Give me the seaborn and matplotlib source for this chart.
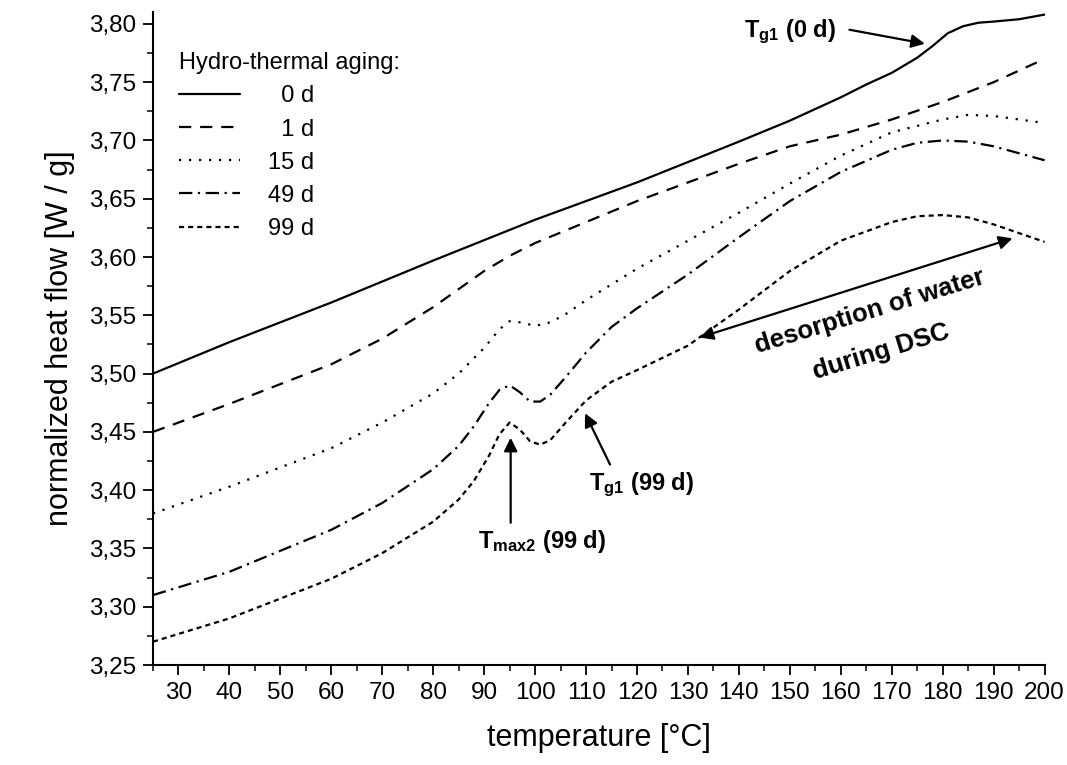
"""
DSC curves of hydro-thermally aged samples (normalized heat flow vs temperature).
"""
import matplotlib

matplotlib.use("Agg")
import matplotlib.pyplot as plt
import pandas as pd
import seaborn as sns
from matplotlib.ticker import FuncFormatter, MultipleLocator

# --- data ------------------------------------------------------------------
aging_labels = ["0 d", "1 d", "15 d", "49 d", "99 d"]

temp_0d = [25, 40, 60, 80, 100, 120, 140, 150, 160, 165, 170, 175, 178, 181, 184, 187, 190, 195, 200]
flow_0d = [3.500, 3.527, 3.561, 3.597, 3.632, 3.664, 3.699, 3.717, 3.737, 3.748, 3.758, 3.771,
           3.781, 3.792, 3.798, 3.801, 3.802, 3.804, 3.808]

temp_1d = [25, 40, 60, 70, 80, 90, 95, 100, 110, 120, 130, 140, 150, 155, 160, 170, 180, 190, 200]
flow_1d = [3.450, 3.474, 3.508, 3.530, 3.557, 3.588, 3.601, 3.612, 3.630, 3.648, 3.664, 3.680,
           3.695, 3.700, 3.705, 3.718, 3.733, 3.750, 3.770]

temp_15d = [25, 40, 60, 70, 80, 85, 90, 93, 95, 97, 100, 103, 106, 110, 120, 130, 140, 150, 160,
            170, 180, 185, 190, 200]
flow_15d = [3.380, 3.403, 3.436, 3.458, 3.483, 3.500, 3.522, 3.538, 3.545, 3.544, 3.541, 3.544,
            3.551, 3.563, 3.590, 3.614, 3.638, 3.663, 3.687, 3.707, 3.718, 3.722, 3.721, 3.715]

temp_49d = [25, 40, 60, 70, 80, 85, 88, 91, 93, 95, 97, 99, 101, 103, 106, 110, 115, 120, 130,
            140, 150, 160, 170, 175, 180, 185, 190, 200]
flow_49d = [3.310, 3.330, 3.366, 3.389, 3.418, 3.438, 3.455, 3.475, 3.486, 3.490, 3.484, 3.476,
            3.476, 3.482, 3.497, 3.518, 3.540, 3.556, 3.585, 3.617, 3.648, 3.673, 3.692, 3.698,
            3.700, 3.699, 3.695, 3.683]

temp_99d = [25, 40, 60, 70, 80, 85, 88, 91, 93, 95, 97, 99, 101, 103, 106, 110, 115, 120, 130,
            140, 150, 160, 170, 175, 180, 185, 190, 200]
flow_99d = [3.270, 3.290, 3.324, 3.346, 3.373, 3.392, 3.408, 3.430, 3.448, 3.458, 3.452, 3.442,
            3.439, 3.443, 3.458, 3.477, 3.493, 3.503, 3.524, 3.555, 3.588, 3.614, 3.630, 3.635,
            3.636, 3.634, 3.628, 3.613]

series = {
    "0 d": (temp_0d, flow_0d),
    "1 d": (temp_1d, flow_1d),
    "15 d": (temp_15d, flow_15d),
    "49 d": (temp_49d, flow_49d),
    "99 d": (temp_99d, flow_99d),
}

dash_styles = {
    "0 d": "",
    "1 d": (5.5, 4),
    "15 d": (1, 3.5),
    "49 d": (6, 2.5, 1, 2.5),
    "99 d": (2.3, 1.8),
}

# legend labels padded so the numbers line up on the right
legend_labels = ["  0 d", "  1 d", "15 d", "49 d", "99 d"]

# --- plot ---------------------------------------------------------------------
sns.set_theme(style="ticks")
plt.rcParams["font.family"] = ["Liberation Sans", "DejaVu Sans"]
plt.rcParams["mathtext.fontset"] = "custom"
plt.rcParams["mathtext.rm"] = "Liberation Sans"
plt.rcParams["mathtext.bf"] = "Liberation Sans:bold"
plt.rcParams["axes.unicode_minus"] = False
plt.rcParams["text.color"] = "black"
plt.rcParams["axes.labelcolor"] = "black"
plt.rcParams["legend.labelcolor"] = "black"

rows = []
for label in aging_labels:
    temps, flows = series[label]
    rows += [{"aging": label, "temperature": t, "flow": f} for t, f in zip(temps, flows)]
df = pd.DataFrame(rows)

fig, ax = plt.subplots(figsize=(10.67, 7.65), dpi=100)
fig.subplots_adjust(left=0.1434, right=0.979, bottom=0.1307, top=0.984)

sns.lineplot(
    data=df, x="temperature", y="flow", style="aging", style_order=aging_labels,
    dashes=dash_styles, color="black", linewidth=1.6, sort=False, legend=False, ax=ax,
)

lines = ax.get_lines()[: len(aging_labels)]
leg = ax.legend(
    lines, legend_labels, title="Hydro-thermal aging:", loc="upper left",
    bbox_to_anchor=(0.018, 0.953), frameon=False, alignment="left",
    fontsize=17, title_fontsize=17, handlelength=2.6, handletextpad=1.2,
    labelspacing=0.47, borderaxespad=0,
)
leg.get_title().set_color("black")

ax.set_xlim(25, 200)
ax.set_ylim(3.25, 3.81)
ax.xaxis.set_major_locator(MultipleLocator(10))
ax.xaxis.set_minor_locator(MultipleLocator(5))
ax.set_xticks(range(30, 201, 10))
ax.yaxis.set_major_locator(MultipleLocator(0.05))
ax.yaxis.set_minor_locator(MultipleLocator(0.025))
ax.yaxis.set_major_formatter(FuncFormatter(lambda v, _: f"{v:.2f}".replace(".", ",")))
ax.tick_params(axis="both", which="major", direction="out", length=7, width=1.3,
               labelsize=17.5, colors="black", pad=5)
ax.tick_params(axis="both", which="minor", direction="out", length=4, width=1.1, colors="black")
sns.despine(ax=ax)
for side in ("left", "bottom"):
    ax.spines[side].set_linewidth(1.5)
    ax.spines[side].set_color("black")

ax.set_xlabel("temperature [°C]", fontsize=22, labelpad=14)
ax.set_ylabel("normalized heat flow [W / g]", fontsize=22, labelpad=10)

# --- annotations --------------------------------------------------------------
arrow = dict(arrowstyle="-|>", color="black", lw=1.6, mutation_scale=20, shrinkA=0, shrinkB=0)

ax.text(141.0, 3.793, r"$\mathbf{T_{g1}}$ (0 d)", fontsize=17, fontweight="bold", va="center")
ax.annotate("", xy=(176.5, 3.783), xytext=(161.7, 3.795), arrowprops=arrow)

ax.text(101.3, 3.356, r"$\mathbf{T_{max2}}$ (99 d)", fontsize=17, fontweight="bold",
        ha="center", va="center")
ax.annotate("", xy=(95.2, 3.445), xytext=(95.2, 3.372), arrowprops=arrow)

ax.text(120.8, 3.405, r"$\mathbf{T_{g1}}$ (99 d)", fontsize=17, fontweight="bold",
        ha="center", va="center")
ax.annotate("", xy=(109.8, 3.466), xytext=(114.7, 3.422), arrowprops=arrow)

ax.annotate("", xy=(193.7, 3.616), xytext=(132.3, 3.531),
            arrowprops=dict(arrowstyle="<|-|>", color="black", lw=1.6, mutation_scale=20,
                            shrinkA=0, shrinkB=0))
ax.text(165.7, 3.553, "desorption of water", fontsize=18.5, fontweight="bold",
        ha="center", va="center", rotation=17, rotation_mode="anchor")
ax.text(168.0, 3.519, "during DSC", fontsize=18.5, fontweight="bold",
        ha="center", va="center", rotation=17, rotation_mode="anchor")

plt.savefig("out.png", dpi=100)
plt.close()
